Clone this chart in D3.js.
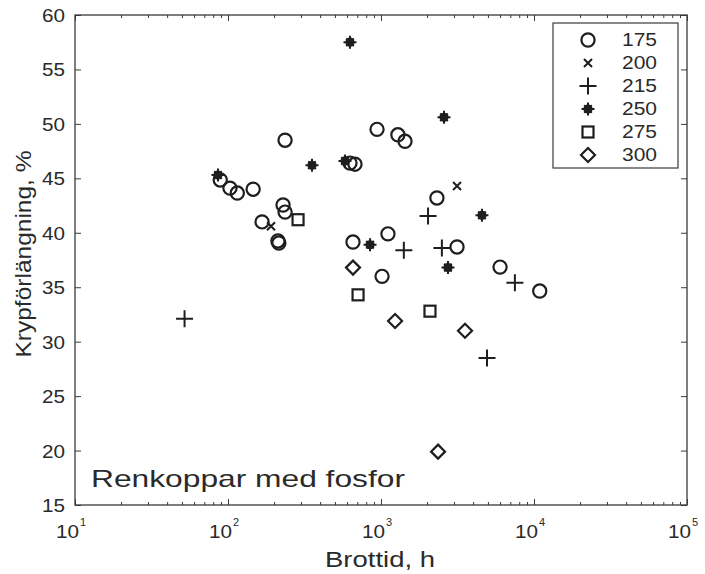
<!DOCTYPE html>
<html>
<head>
<meta charset="utf-8">
<script src="https://cdn.jsdelivr.net/npm/d3@7"></script>
<style>
  html, body { margin: 0; padding: 0; background: #fff; }
  svg { display: block; }
  text { font-family: "Liberation Sans", Arial, Helvetica, sans-serif; fill: #2a2a2a; }
</style>
</head>
<body>
<svg id="chart" width="705" height="574"></svg>
<script>
// Creep elongation vs. rupture time for phosphorus-alloyed copper, by test temperature
const temperatures = ["175", "200", "215", "250", "275", "300"];
const markerKinds = ["circle", "cross", "plus", "star", "square", "diamond"];

// [rupture time (h), creep elongation (%)]
const series175 = [[89, 44.85], [103, 44.1], [115, 43.65], [146, 44.0], [167, 41.0],
  [229, 42.55], [236, 41.9], [212, 39.25], [215, 39.05], [236, 48.5], [627, 46.4],
  [676, 46.3], [942, 49.5], [1290, 49.0], [1435, 48.4], [2320, 43.2], [656, 39.15],
  [1110, 39.9], [3140, 38.7], [1016, 36.0], [6000, 36.85], [10900, 34.65]];
const series200 = [[191, 40.6], [3140, 44.3]];
const series215 = [[52, 32.1], [2030, 41.55], [1410, 38.4], [2500, 38.6], [7500, 35.4], [4930, 28.5]];
const series250 = [[86, 45.3], [354, 46.2], [627, 57.5], [2580, 50.6], [582, 46.6],
  [848, 38.9], [4570, 41.6], [2740, 36.8]];
const series275 = [[287, 41.2], [708, 34.3], [2090, 32.8]];
const series300 = [[656, 36.8], [1236, 31.9], [3540, 31.0], [2360, 19.9]];
const allSeries = [series175, series200, series215, series250, series275, series300];

const xMajorTicks = [1e1, 1e2, 1e3, 1e4, 1e5];
const xExponents = ["1", "2", "3", "4", "5"];
const yTicks = [15, 20, 25, 30, 35, 40, 45, 50, 55, 60];

const xTitle = "Brottid, h";
const yTitle = "Krypförlängning, %";
const noteText = "Renkoppar med fosfor";

const svg = d3.select("#chart");
const plotL = 75, plotR = 687, plotT = 15, plotB = 505;

const x = d3.scaleLog().domain([10, 1e5]).range([plotL, plotR]);
const y = d3.scaleLinear().domain([15, 60]).range([plotB, plotT]);

const minorTicks = [];
for (let d = 1; d < 5; d++) for (let m = 2; m <= 9; m++) minorTicks.push(m * Math.pow(10, d));

const axisColor = "#3a3a3a";
function styleAxis(g) {
  g.select(".domain").remove();
  g.selectAll(".tick line").attr("stroke", axisColor).attr("stroke-width", 1);
}

// frame
svg.append("rect").attr("x", plotL).attr("y", plotT)
  .attr("width", plotR - plotL).attr("height", plotB - plotT)
  .attr("fill", "none").attr("stroke", axisColor).attr("stroke-width", 1.3);

// x axes (bottom + top), ticks pointing inward
svg.append("g").attr("transform", `translate(0,${plotB})`)
  .call(d3.axisBottom(x).tickValues(xMajorTicks).tickSize(-6).tickFormat(""))
  .call(styleAxis);
svg.append("g").attr("transform", `translate(0,${plotB})`)
  .call(d3.axisBottom(x).tickValues(minorTicks).tickSize(-3).tickFormat(""))
  .call(styleAxis);
svg.append("g").attr("transform", `translate(0,${plotT})`)
  .call(d3.axisTop(x).tickValues(xMajorTicks).tickSize(-6).tickFormat(""))
  .call(styleAxis);
svg.append("g").attr("transform", `translate(0,${plotT})`)
  .call(d3.axisTop(x).tickValues(minorTicks).tickSize(-3).tickFormat(""))
  .call(styleAxis);

// y axes (left with labels, right ticks only)
const yAxisG = svg.append("g").attr("transform", `translate(${plotL},0)`)
  .call(d3.axisLeft(y).tickValues(yTicks).tickSize(-6).tickPadding(10))
  .call(styleAxis);
yAxisG.selectAll(".tick text")
  .attr("font-size", 18).attr("font-family", null)
  .attr("textLength", 23).attr("lengthAdjust", "spacingAndGlyphs")
  .attr("dy", "0.36em");
svg.append("g").attr("transform", `translate(${plotR},0)`)
  .call(d3.axisRight(y).tickValues(yTicks).tickSize(-6).tickFormat(""))
  .call(styleAxis);

// x tick labels as powers of ten
const xl = svg.append("g");
xMajorTicks.forEach((v, i) => {
  const t = xl.append("text").attr("x", x(v) - 4).attr("y", 538)
    .attr("text-anchor", "middle").attr("font-size", 18);
  t.append("tspan").text("10").attr("textLength", 23).attr("lengthAdjust", "spacingAndGlyphs");
  t.append("tspan").text(xExponents[i]).attr("font-size", 11).attr("dy", -12).attr("dx", 1);
});

// axis titles
svg.append("text").attr("x", 380).attr("y", 567).attr("text-anchor", "middle")
  .attr("font-size", 22).attr("textLength", 110).attr("lengthAdjust", "spacingAndGlyphs")
  .text(xTitle);
svg.append("text").attr("transform", "translate(31,254) rotate(-90)")
  .attr("text-anchor", "middle").attr("font-size", 22)
  .attr("textLength", 207).attr("lengthAdjust", "spacingAndGlyphs")
  .text(yTitle);

// annotation inside the plot
svg.append("text").attr("x", 91).attr("y", 487).attr("font-size", 24)
  .attr("textLength", 314).attr("lengthAdjust", "spacingAndGlyphs")
  .text(noteText);

// marker drawing
const ink = "#1e1e1e";
function drawMarker(g, kind) {
  switch (kind) {
    case "circle":
      g.append("circle").attr("r", 6.6).attr("fill", "none").attr("stroke", ink).attr("stroke-width", 2.2);
      break;
    case "cross":
      g.append("path").attr("d", "M-4,-4L4,4M-4,4L4,-4").attr("stroke", ink).attr("stroke-width", 2);
      break;
    case "plus":
      g.append("path").attr("d", "M-8.5,0H8.5M0,-8.5V8.5").attr("stroke", ink).attr("stroke-width", 2);
      break;
    case "star":
      g.append("path").attr("d", "M-6.5,0H6.5M0,-6.5V6.5M-3.8,-3.8L3.8,3.8M-3.8,3.8L3.8,-3.8")
        .attr("stroke", ink).attr("stroke-width", 2);
      g.append("circle").attr("r", 4.6).attr("fill", ink);
      break;
    case "square":
      g.append("rect").attr("x", -5.5).attr("y", -5.5).attr("width", 11).attr("height", 11)
        .attr("fill", "none").attr("stroke", ink).attr("stroke-width", 2.2);
      break;
    case "diamond":
      g.append("path").attr("d", "M0,-7L7,0L0,7L-7,0Z")
        .attr("fill", "none").attr("stroke", ink).attr("stroke-width", 2.2);
      break;
  }
}

// data points
const pts = svg.append("g");
allSeries.forEach((s, i) => {
  pts.selectAll(null).data(s).enter().append("g")
    .attr("transform", d => `translate(${x(d[0])},${y(d[1])})`)
    .each(function () { drawMarker(d3.select(this), markerKinds[i]); });
});

// legend
const lg = svg.append("g");
lg.append("rect").attr("x", 553).attr("y", 23).attr("width", 125).attr("height", 145)
  .attr("fill", "#fff").attr("stroke", axisColor).attr("stroke-width", 1.2);
temperatures.forEach((t, i) => {
  const cy = 40 + i * 23;
  const g = lg.append("g").attr("transform", `translate(588,${cy})`);
  drawMarker(g, markerKinds[i]);
  lg.append("text").attr("x", 622).attr("y", cy).attr("dy", "0.36em")
    .attr("font-size", 18).attr("textLength", 35).attr("lengthAdjust", "spacingAndGlyphs")
    .text(t);
});
</script>
</body>
</html>
